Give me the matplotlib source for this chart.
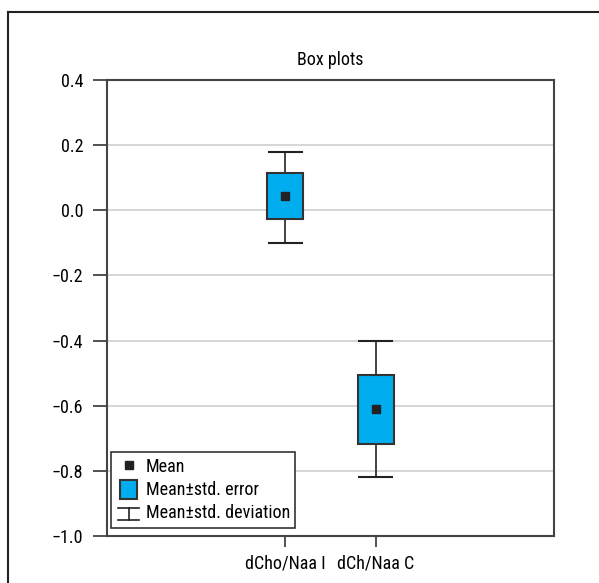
import matplotlib
matplotlib.use("Agg")
import matplotlib.pyplot as plt
from matplotlib.patches import Rectangle
from matplotlib.lines import Line2D
from matplotlib.legend_handler import HandlerBase
from matplotlib import font_manager

names = {f.name for f in font_manager.fontManager.ttflist}
prefs = ['Liberation Sans Narrow', 'Roboto Condensed', 'Open Sans Condensed', 'Noto Sans Condensed',
         'DejaVu Sans Condensed', 'Liberation Sans']
chosen = [n for n in prefs if n in names][:1]
plt.rcParams['font.family'] = chosen + ['DejaVu Sans']
condensed = bool(chosen) and chosen[0] != 'Liberation Sans'
FS = 13 if condensed else 11

categories = ["dCho/Naa I", "dCh/Naa C"]
means = [0.044, -0.611]
se_low = [-0.027, -0.717]
se_high = [0.115, -0.506]
sd_low = [-0.099, -0.818]
sd_high = [0.180, -0.400]
yticks = [0.4, 0.2, 0.0, -0.2, -0.4, -0.6, -0.8, -1.0]

fig = plt.figure(figsize=(5.99, 5.83), dpi=100)
fig.add_artist(Line2D([8/599, 8/599], [0, 1 - 12/583], transform=fig.transFigure, color='#222222', lw=1.5))
fig.add_artist(Line2D([8/599, 1], [1 - 12/583, 1 - 12/583], transform=fig.transFigure, color='#222222', lw=1.5))

ax = fig.add_axes([107/599, 1 - 536/583, (554-107)/599, (536-80)/583])
positions = [1, 2]
boxw = 0.4
capw = 0.36
edge = '#333333'
fill = '#00AEEF'
for p, m, sl, sh, dl, dh in zip(positions, means, se_low, se_high, sd_low, sd_high):
    ax.plot([p, p], [dl, sl], color='#222222', lw=1.2, zorder=3)
    ax.plot([p, p], [sh, dh], color='#222222', lw=1.2, zorder=3)
    ax.plot([p - capw/2, p + capw/2], [dl, dl], color='#222222', lw=1.5, zorder=3)
    ax.plot([p - capw/2, p + capw/2], [dh, dh], color='#222222', lw=1.5, zorder=3)
    ax.add_patch(Rectangle((p - boxw/2, sl), boxw, sh - sl, facecolor=fill,
                           edgecolor=edge, lw=1.5, zorder=4))
    ax.plot([p], [m], marker='s', color='#222222', ms=6, ls='none', zorder=5)

ax.set_xlim(-0.98, 3.98)
ax.set_ylim(-1.0, 0.4)
ax.set_yticks(yticks)
ax.set_yticklabels([f"{v:.1f}".replace('-', '\u2212') for v in yticks], fontsize=FS)
ax.set_xticks(positions)
ax.set_xticklabels(categories, fontsize=FS)
ax.tick_params(axis='y', length=10, width=1.2, color='#333333', pad=7)
ax.tick_params(axis='x', length=8, width=1.2, color='#333333', pad=5)
for s in ax.spines.values():
    s.set_color('#444444')
    s.set_linewidth(1.5)
for v in yticks[1:-1]:
    ax.axhline(v, color='#d0d0d0', lw=1.2, zorder=1)
ax.set_title("Box plots", fontsize=FS, pad=11)


class ErrHandler(HandlerBase):
    def create_artists(self, legend, orig, xd, yd, w, h, fs, trans):
        cx = xd + w/2
        y0 = yd - h*0.1
        y1 = yd + h*0.8
        l1 = Line2D([xd + w*0.05, xd + w*0.95], [y0, y0], color='#222222', lw=1.2, transform=trans)
        l2 = Line2D([xd + w*0.05, xd + w*0.95], [y1, y1], color='#222222', lw=1.2, transform=trans)
        l3 = Line2D([cx, cx], [y0, y1], color='#222222', lw=1.2, transform=trans)
        return [l1, l2, l3]


class BoxHandler(HandlerBase):
    def create_artists(self, legend, orig, xd, yd, w, h, fs, trans):
        r = Rectangle((xd + w*0.15, yd - h*0.3), w*0.7, h*1.5, facecolor=fill, edgecolor=edge, lw=1.5, transform=trans)
        return [r]


mean_h = Line2D([], [], marker='s', color='#222222', ms=6, ls='none')
box_h = Rectangle((0, 0), 1, 1)
err_h = Line2D([], [])
leg = ax.legend([mean_h, box_h, err_h], ["Mean", "Mean\u00b1std. error", "Mean\u00b1std. deviation"],
                handler_map={box_h: BoxHandler(), err_h: ErrHandler()},
                loc='lower left', bbox_to_anchor=(0.01, 0.018), fontsize=FS, fancybox=False,
                framealpha=1, edgecolor='#333333', borderpad=0.3, labelspacing=0.3,
                handlelength=1.3, handletextpad=0.3, borderaxespad=0)
leg.get_frame().set_linewidth(1.2)

fig.savefig("out.png", dpi=100)
